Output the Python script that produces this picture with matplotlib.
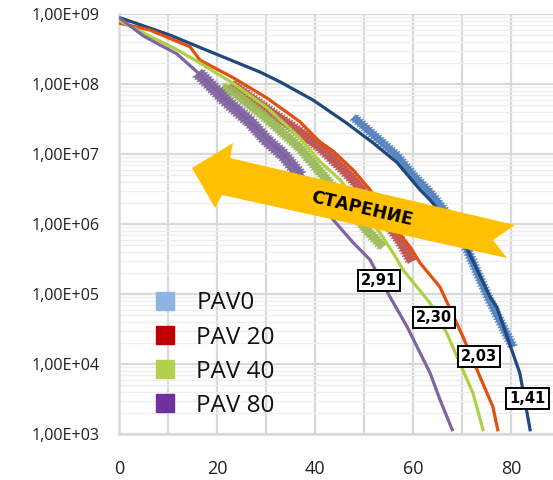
import matplotlib
matplotlib.use("Agg")
import matplotlib.pyplot as plt
import matplotlib.patheffects as pe
from matplotlib.lines import Line2D
from matplotlib.patches import Polygon
from matplotlib.ticker import FixedLocator, FixedFormatter, LogLocator, NullFormatter

# ---------------- data ----------------
series_names = ["PAV0", "PAV 20", "PAV 40", "PAV 80"]

# fitted (thin) curves
pav0_fit_x = [0.5, 10.4, 18.6, 28.8, 32.9, 39.6, 46.5, 51.8, 56.7, 61.4, 63.5, 70.2, 75.7, 77.1, 81.8, 83.9]
pav0_fit_y = [8.7e8, 5.0e8, 2.9e8, 1.48e8, 1.07e8, 5.9e7, 2.75e7, 1.45e7, 7.6e6, 3.1e6, 2.2e6, 5.9e5, 9.1e4, 6.5e4, 7.4e3, 1.15e3]

pav20_fit_x = [0.2, 6.3, 14.5, 16.5, 23.3, 30.2, 36.9, 41.0, 43.7, 47.8, 51.2, 56.7, 59.4, 61.4, 65.5, 70.2, 73.7, 76.3, 77.3]
pav20_fit_y = [7.4e8, 5.9e8, 3.4e8, 2.2e8, 1.23e8, 6.3e7, 2.9e7, 1.48e7, 1.1e7, 5.9e6, 3.1e6, 8.1e5, 4.7e5, 2.8e5, 1.26e5, 2.45e4, 6.5e3, 2.45e3, 1.15e3]

pav40_fit_x = [0.0, 4.9, 11.8, 16.5, 23.3, 30.2, 36.9, 41.0, 45.1, 53.3, 55.9, 58.0, 63.5, 66.9, 70.2, 72.2, 74.3]
pav40_fit_y = [8.1e8, 5.4e8, 3.1e8, 2.0e8, 1.02e8, 4.6e7, 1.7e7, 7.8e6, 4.3e6, 7.4e5, 3.9e5, 2.2e5, 7.4e4, 2.75e4, 8.1e3, 3.9e3, 1.15e3]

pav80_fit_x = [0.2, 4.9, 8.4, 11.8, 16.1, 18.0, 26.7, 33.5, 39.6, 43.7, 47.8, 51.2, 55.3, 58.8, 63.5, 65.5, 68.0]
pav80_fit_y = [8.7e8, 4.9e8, 3.6e8, 2.7e8, 1.45e8, 1.07e8, 2.9e7, 9.8e6, 3.4e6, 1.15e6, 5.4e5, 3.1e5, 9.1e4, 3.4e4, 7.4e3, 3.1e3, 1.15e3]

# measured data (thick bands)
pav0_data_x = [47.8, 52.0, 56.7, 60.0, 63.5, 66.9, 70.2, 75.1, 80.4]
pav0_data_y = [3.4e7, 1.86e7, 9.5e6, 5.0e6, 2.8e6, 1.41e6, 5.9e5, 9.8e4, 1.74e4]

pav20_data_x = [22.9, 30.2, 36.9, 41.0, 44.5, 47.8, 52.0, 57.3, 59.8]
pav20_data_y = [1.0e8, 4.3e7, 2.04e7, 1.26e7, 7.4e6, 4.3e6, 1.9e6, 5.9e5, 2.9e5]

pav40_data_x = [21.0, 23.3, 30.2, 36.9, 41.6, 46.0, 50.6, 53.9]
pav40_data_y = [9.1e7, 7.8e7, 3.2e7, 1.23e7, 5.0e6, 2.1e6, 8.1e5, 4.7e5]

pav80_data_x = [16.1, 18.0, 22.0, 26.7, 30.0, 33.5, 37.0]
pav80_data_y = [1.45e8, 1.07e8, 5.6e7, 2.9e7, 1.6e7, 9.8e6, 4.9e6]

# slope labels
slope_labels = ["2,91", "2,30", "2,03", "1,41"]
slope_x = [53.1, 64.3, 73.5, 83.3]
slope_y = [1.55e5, 4.6e4, 1.28e4, 3.2e3]

xticks = [0, 20, 40, 60, 80]
xtick_labels = ["0", "20", "40", "60", "80"]
yticks = [1e3, 1e4, 1e5, 1e6, 1e7, 1e8, 1e9]
ytick_labels = ["1,00E+03", "1,00E+04", "1,00E+05", "1,00E+06", "1,00E+07", "1,00E+08", "1,00E+09"]

arrow_text = "СТАРЕНИЕ"

# ---------------- styles ----------------
fit_colors = ["#1F497D", "#E2500E", "#AFD043", "#8064A2"]
data_colors = ["#4F81BD", "#C0504D", "#9BBB59", "#8064A2"]
legend_colors = ["#8DB4E2", "#C00000", "#B3D14C", "#7030A0"]
data_widths = [5.0, 6.5, 6.0, 8.0]

W, H = 553, 480
fig = plt.figure(figsize=(W / 100, H / 100), dpi=100)
left, bottom = 119, 46
ax = fig.add_axes([left / W, bottom / H, (W - left) / W, 420 / H])
ax.set_yscale("log")
ax.set_xlim(0, (W - left) / 4.9)
ax.set_ylim(1e3, 1e9)

# grid
ax.yaxis.set_major_locator(FixedLocator(yticks))
ax.yaxis.set_major_formatter(FixedFormatter(ytick_labels))
ax.yaxis.set_minor_locator(LogLocator(base=10, subs=range(2, 10)))
ax.yaxis.set_minor_formatter(NullFormatter())
ax.xaxis.set_major_locator(FixedLocator(xticks))
ax.xaxis.set_major_formatter(FixedFormatter(xtick_labels))
ax.xaxis.set_minor_locator(FixedLocator([10, 30, 50, 70]))
ax.grid(True, which="major", axis="both", color="#D9D9D9", lw=1.6)
ax.grid(True, which="minor", axis="x", color="#D9D9D9", lw=1.6)
ax.grid(True, which="minor", axis="y", color="#EEEEEE", lw=0.9)
ax.set_axisbelow(True)
for s in ["top", "right"]:
    ax.spines[s].set_visible(False)
for s in ["left", "bottom"]:
    ax.spines[s].set_color("#D9D9D9")
    ax.spines[s].set_linewidth(1.8)
ax.tick_params(which="both", length=0)
ax.tick_params(axis="y", pad=14, labelsize=11.6, labelcolor="#222222")
ax.tick_params(axis="x", pad=19, labelsize=13, labelcolor="#222222")
for lab in ax.get_xticklabels() + ax.get_yticklabels():
    lab.set_fontfamily("Open Sans")

data_sets = [(pav0_data_x, pav0_data_y), (pav20_data_x, pav20_data_y),
             (pav40_data_x, pav40_data_y), (pav80_data_x, pav80_data_y)]
fit_sets = [(pav0_fit_x, pav0_fit_y), (pav20_fit_x, pav20_fit_y),
            (pav40_fit_x, pav40_fit_y), (pav80_fit_x, pav80_fit_y)]

sp = 2.2
for (dx, dy), c, w in zip(data_sets, data_colors, data_widths):
    ln = (w / 2 + 1.3) / sp
    ax.plot(dx, dy, color=c, lw=w, alpha=0.9, solid_capstyle="butt",
            solid_joinstyle="round", zorder=2,
            path_effects=[pe.Normal(),
                          pe.TickedStroke(angle=75, spacing=sp, length=ln, linewidth=1.1, foreground=c, alpha=0.85),
                          pe.TickedStroke(angle=-105, spacing=sp, length=ln, linewidth=1.1, foreground=c, alpha=0.85)])
for (fx, fy), c in zip(fit_sets, fit_colors):
    ax.plot(fx, fy, color=c, lw=2.3, solid_joinstyle="round", zorder=3)

# arrow (figure pixel coords -> figure fraction)
arrow_px = [(192, 168), (233, 143), (230, 158), (515, 225), (493, 240),
            (507, 258), (222, 195), (215, 208)]
arrow = Polygon([(x / W, 1 - y / H) for x, y in arrow_px], closed=True,
                facecolor="#FFC000", edgecolor="none", transform=fig.transFigure, zorder=5)
fig.patches.append(arrow)
fig.text(362 / W, 1 - 209 / H, arrow_text, rotation=-13, rotation_mode="anchor",
         ha="center", va="center", fontsize=12.5, fontweight="heavy",
         family="DejaVu Sans", color="black", zorder=6)

# slope labels
for t, x, y in zip(slope_labels, slope_x, slope_y):
    ax.text(x, y, t, ha="center", va="center", fontsize=10.5, fontweight="bold",
            family="DejaVu Sans", color="black", zorder=7,
            bbox=dict(boxstyle="square,pad=0.22", fc="white", ec="black", lw=1.4))

# legend
handles = [Line2D([], [], marker="s", ls="none", ms=13.5, mfc=c, mec=c) for c in legend_colors]
leg = ax.legend(handles, series_names, loc="center left", bbox_to_anchor=(0.077, 0.189),
                frameon=False, borderpad=0, borderaxespad=0, handlelength=1.0,
                handletextpad=0.8, labelspacing=0.42,
                prop={"family": "Open Sans", "size": 17.5})
for t in leg.get_texts():
    t.set_color("#111111")

fig.savefig("out.png", dpi=100)
